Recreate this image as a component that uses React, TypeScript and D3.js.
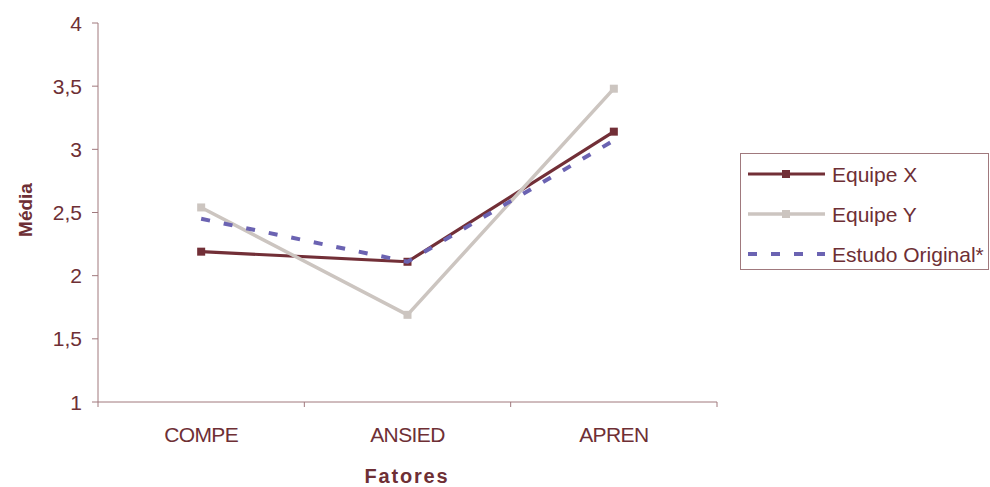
import React from "react";
import * as d3 from "d3";

const categories = ["COMPE", "ANSIED", "APREN"];
const equipeX = [2.19, 2.11, 3.14];
const equipeY = [2.54, 1.69, 3.48];
const estudoOriginal = [2.45, 2.11, 3.07];
const yTicks = [1, 1.5, 2, 2.5, 3, 3.5, 4];

const W = 990;
const H = 487;
const left = 98;
const right = 717;
const top = 23;
const bottom = 402;

const textColor = "#6E2F35";
const axisColor = "#A0797D";

const series = [
  { name: "Equipe X", values: equipeX, color: "#722F37", width: 3.2, dash: null as string | null, marker: true },
  { name: "Equipe Y", values: equipeY, color: "#CCC5C0", width: 3.5, dash: null as string | null, marker: true },
  { name: "Estudo Original*", values: estudoOriginal, color: "#6B63B2", width: 4, dash: "9,14", marker: false },
];

export default function App() {
  const x = d3.scaleBand<string>().domain(categories).range([left, right]);
  const y = d3.scaleLinear().domain([1, 4]).range([bottom, top]);
  const fmt = (v: number) => String(v).replace(".", ",");
  const cx = (c: string) => (x(c) ?? 0) + x.bandwidth() / 2;

  const line = d3
    .line<number>()
    .x((_, i) => cx(categories[i]))
    .y((v) => y(v));

  const font = "'Liberation Sans', Arial, sans-serif";
  const boundaries = [...categories.map((c) => x(c) ?? 0), right];

  return (
    <div style={{ position: "absolute", left: 0, top: 0 }}>
      <svg width={W} height={H} style={{ display: "block", fontFamily: font }}>
        <rect width={W} height={H} fill="#fff" />
        {/* y axis */}
        <line x1={left} x2={left} y1={top} y2={bottom} stroke={axisColor} strokeWidth={1} />
        {yTicks.map((t) => (
          <g key={t}>
            <line x1={left - 6} x2={left} y1={y(t)} y2={y(t)} stroke={axisColor} />
            <text x={82} y={y(t) + 7.5} textAnchor="end" fontSize={21} fill={textColor}>
              {fmt(t)}
            </text>
          </g>
        ))}
        {/* x axis */}
        <line x1={left} x2={right} y1={bottom} y2={bottom} stroke={axisColor} />
        {boundaries.map((b, i) => (
          <line key={i} x1={b} x2={b} y1={bottom} y2={bottom + 5} stroke={axisColor} />
        ))}
        {categories.map((c) => (
          <text key={c} x={cx(c)} y={442} textAnchor="middle" fontSize={21} fill={textColor} letterSpacing={-0.6}>
            {c}
          </text>
        ))}
        <text x={407} y={483} textAnchor="middle" fontSize={20} fontWeight="bold" fill={textColor} letterSpacing={1.8}>
          Fatores
        </text>
        <text
          transform="translate(32,210) rotate(-90)"
          textAnchor="middle"
          fontSize={19}
          fontWeight="bold"
          fill={textColor}
        >
          Média
        </text>

        {/* series */}
        {series.map((s) => (
          <g key={s.name}>
            <path
              d={line(s.values) ?? ""}
              fill="none"
              stroke={s.color}
              strokeWidth={s.width}
              strokeDasharray={s.dash ?? undefined}
              strokeLinejoin="round"
            />
            {s.marker &&
              s.values.map((v, i) => (
                <rect
                  key={i}
                  x={cx(categories[i]) - 4}
                  y={y(v) - 4}
                  width={8}
                  height={8}
                  fill={s.color}
                />
              ))}
          </g>
        ))}

        {/* legend */}
        <rect x={740.5} y={153.5} width={248} height={116} fill="#fff" stroke={axisColor} strokeWidth={1} />
        {series.map((s, i) => {
          const ly = 174 + i * 40;
          return (
            <g key={s.name}>
              <line
                x1={748}
                x2={825}
                y1={ly}
                y2={ly}
                stroke={s.color}
                strokeWidth={s.width}
                strokeDasharray={s.dash ?? undefined}
              />
              {s.marker && <rect x={782} y={ly - 4} width={8} height={8} fill={s.color} />}
              <text x={832} y={ly + 7.5} fontSize={21} fill={textColor}>
                {s.name}
              </text>
            </g>
          );
        })}
      </svg>
    </div>
  );
}
